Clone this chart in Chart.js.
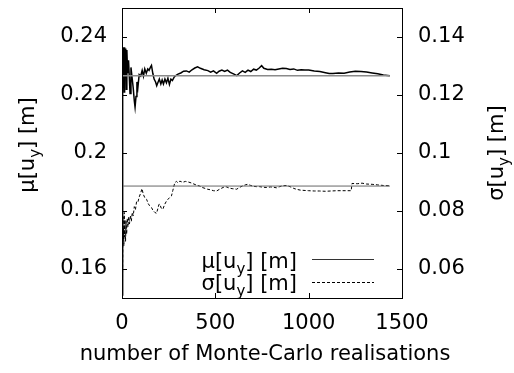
<!DOCTYPE html>
<html>
<head>
<meta charset="utf-8">
<script src="https://cdn.jsdelivr.net/npm/chart.js@4/dist/chart.umd.min.js"></script>
<style>
  html, body { margin: 0; padding: 0; background: #fff; }
  #wrap { width: 514px; height: 373px; }
</style>
</head>
<body>
<div id="wrap"><canvas id="mc-chart" width="514" height="373"></canvas></div>
<script>
// --- Data ---
var xTicks = [0, 500, 1000, 1500];
var muTicks = [0.16, 0.18, 0.2, 0.22, 0.24];
var sigmaTicks = [0.06, 0.08, 0.1, 0.12, 0.14];
var xTitle = 'number of Monte-Carlo realisations';

var muN = [1, 2, 3, 4, 5, 6, 8, 10, 12, 14, 17, 20, 23, 26, 30, 35, 40, 43, 48, 54,
  60, 66, 70, 75, 80, 85, 92, 100, 108, 115, 122, 130, 138, 145, 152, 158, 165, 172, 180, 186,
  192, 200, 208, 215, 222, 230, 238, 246, 254, 262, 270, 280, 290, 300, 315, 330, 345, 360, 375, 390,
  405, 420, 440, 460, 475, 490, 507, 520, 535, 550, 565, 580, 600, 615, 630, 645, 660, 675, 690, 705,
  720, 735, 748, 760, 780, 800, 820, 840, 860, 880, 900, 920, 940, 960, 980, 1000, 1030, 1060, 1090, 1110,
  1130, 1160, 1190, 1220, 1250, 1280, 1310, 1340, 1370, 1400, 1435];
var muValues = [0.151, 0.19, 0.215, 0.232, 0.222, 0.236, 0.226, 0.2365, 0.221, 0.2365, 0.228, 0.236, 0.222, 0.2355, 0.2275, 0.232, 0.225, 0.2205, 0.2295, 0.226,
  0.2225, 0.218, 0.2158, 0.2195, 0.2245, 0.2225, 0.227, 0.2265, 0.2285, 0.2265, 0.229, 0.2275, 0.229, 0.2285, 0.2295, 0.2302, 0.2275, 0.2255, 0.2245, 0.2232,
  0.2242, 0.2255, 0.2238, 0.2252, 0.2238, 0.2255, 0.2242, 0.2258, 0.2236, 0.2255, 0.225, 0.2262, 0.2268, 0.2272, 0.2276, 0.2282, 0.2283, 0.2279, 0.2287, 0.2293,
  0.2297, 0.2292, 0.2287, 0.2284, 0.2279, 0.2283, 0.2275, 0.2282, 0.2286, 0.2281, 0.2286, 0.2278, 0.2272, 0.2267, 0.2276, 0.2283, 0.2278, 0.2286, 0.2281, 0.2289,
  0.2286, 0.2293, 0.2301, 0.2292, 0.2288, 0.2289, 0.2287, 0.229, 0.2292, 0.2291, 0.2288, 0.229, 0.2285, 0.2287, 0.2286, 0.2286, 0.2283, 0.2281, 0.2277, 0.2274,
  0.2274, 0.2276, 0.2275, 0.2279, 0.2282, 0.2281, 0.2279, 0.2276, 0.2273, 0.2269, 0.2266];

var sigmaN = [2, 3, 4, 5, 6, 7, 8, 10, 12, 14, 16, 19, 22, 25, 28, 32, 36, 40, 45, 50,
  55, 60, 66, 72, 78, 85, 92, 100, 107, 114, 122, 132, 140, 148, 158, 166, 176, 185, 192, 198,
  203, 210, 219, 228, 238, 246, 256, 265, 272, 283, 292, 300, 310, 325, 340, 355, 370, 385, 400, 416,
  430, 445, 459, 475, 490, 507, 520, 535, 548, 560, 575, 590, 605, 614, 628, 645, 660, 673, 690, 705,
  720, 737, 755, 775, 795, 812, 827, 845, 860, 881, 900, 920, 934, 955, 975, 1000, 1030, 1057, 1090, 1120,
  1150, 1180, 1210, 1228, 1232, 1260, 1286, 1310, 1340, 1370, 1400, 1435];
var sigmaValues = [0.045, 0.058, 0.066, 0.072, 0.078, 0.07, 0.074, 0.068, 0.0795, 0.071, 0.077, 0.0695, 0.0765, 0.072, 0.0775, 0.0745, 0.078, 0.0755, 0.0785, 0.0765,
  0.0795, 0.0783, 0.0815, 0.0805, 0.0832, 0.083, 0.0848, 0.0862, 0.0877, 0.0858, 0.0846, 0.084, 0.0826, 0.0818, 0.0812, 0.0802, 0.0795, 0.0792, 0.0808, 0.0823,
  0.0823, 0.081, 0.0806, 0.0822, 0.0834, 0.084, 0.0847, 0.0852, 0.087, 0.0898, 0.0902, 0.0897, 0.0903, 0.0899, 0.0902, 0.09, 0.0897, 0.0893, 0.0889, 0.0886,
  0.0881, 0.0878, 0.0875, 0.0873, 0.087, 0.0869, 0.0874, 0.0879, 0.0883, 0.0883, 0.0879, 0.0877, 0.0876, 0.0875, 0.0881, 0.0886, 0.089, 0.0892, 0.0888, 0.0885,
  0.0884, 0.0884, 0.0882, 0.0881, 0.0883, 0.0882, 0.088, 0.0884, 0.0887, 0.0888, 0.0884, 0.0878, 0.0875, 0.0872, 0.0871, 0.087, 0.0869, 0.0869, 0.0868, 0.0869,
  0.087, 0.087, 0.087, 0.087, 0.0895, 0.0894, 0.0896, 0.0893, 0.0892, 0.089, 0.0888, 0.0887];

var muReference = 0.2266;
var sigmaReference = 0.0886;
var referenceRange = [0, 1435];

// --- Helpers ---
var FONT = '"DejaVu Sans", "Liberation Sans", Arial, sans-serif';
var FONT_SIZE = 21;

function toPoints(xs, ys) {
  return xs.map(function(x, i) { return { x: x, y: ys[i] }; });
}

function refPoints(value) {
  return referenceRange.map(function(x) { return { x: x, y: value }; });
}

function plainNumber(v) {
  return String(+v.toFixed(2));
}

// draws "<sym>[u_y] [m]" with a real subscript
function drawLabel(ctx, sym, x, y, align, size) {
  var parts = [
    { t: sym + '[u', s: size, dy: 0 },
    { t: 'y', s: Math.round(size * 0.72), dy: size * 0.3 },
    { t: '] [m]', s: size, dy: 0 }
  ];
  var widths = parts.map(function(p) {
    ctx.font = p.s + 'px ' + FONT;
    return ctx.measureText(p.t).width;
  });
  var total = widths.reduce(function(a, b) { return a + b; }, 0);
  var cx = align === 'right' ? x - total : (align === 'center' ? x - total / 2 : x);
  ctx.textAlign = 'left';
  ctx.textBaseline = 'alphabetic';
  parts.forEach(function(p, i) {
    ctx.font = p.s + 'px ' + FONT;
    ctx.fillText(p.t, cx, y + p.dy);
    cx += widths[i];
  });
}

// frame, inward ticks, axis titles and legend
var decorations = {
  id: 'decorations',
  afterDraw: function(chart) {
    var ctx = chart.ctx;
    var area = chart.chartArea;
    var xs = chart.scales.x, yl = chart.scales.yMu, yr = chart.scales.ySigma;
    var tick = 5;

    ctx.save();
    ctx.strokeStyle = '#000';
    ctx.lineWidth = 1;
    ctx.strokeRect(Math.round(area.left) + 0.5, Math.round(area.top) + 0.5,
      Math.round(area.right - area.left), Math.round(area.bottom - area.top));

    ctx.beginPath();
    xTicks.forEach(function(v) {
      var px = Math.round(xs.getPixelForValue(v)) + 0.5;
      ctx.moveTo(px, area.bottom); ctx.lineTo(px, area.bottom - tick);
      ctx.moveTo(px, area.top); ctx.lineTo(px, area.top + tick);
    });
    muTicks.forEach(function(v) {
      var py = Math.round(yl.getPixelForValue(v)) + 0.5;
      ctx.moveTo(area.left, py); ctx.lineTo(area.left + tick, py);
    });
    sigmaTicks.forEach(function(v) {
      var py = Math.round(yr.getPixelForValue(v)) + 0.5;
      ctx.moveTo(area.right, py); ctx.lineTo(area.right - tick, py);
    });
    ctx.stroke();

    ctx.fillStyle = '#000';

    // x axis title (drawn here so it is not squeezed to the plot width)
    ctx.font = FONT_SIZE + 'px ' + FONT;
    ctx.textAlign = 'center';
    ctx.textBaseline = 'alphabetic';
    ctx.fillText(xTitle, 265, 360);

    // left axis title
    ctx.save();
    ctx.translate(34, 145);
    ctx.rotate(-Math.PI / 2);
    drawLabel(ctx, 'μ', 0, 0, 'center', FONT_SIZE);
    ctx.restore();

    // right axis title
    ctx.save();
    ctx.translate(503, 153);
    ctx.rotate(-Math.PI / 2);
    drawLabel(ctx, 'σ', 0, 0, 'center', FONT_SIZE);
    ctx.restore();

    // legend
    drawLabel(ctx, 'μ', 297, 268, 'right', FONT_SIZE);
    drawLabel(ctx, 'σ', 297, 290, 'right', FONT_SIZE);

    ctx.beginPath();
    ctx.strokeStyle = '#333';
    ctx.lineWidth = 1.2;
    ctx.moveTo(312, 259.5); ctx.lineTo(374, 259.5);
    ctx.stroke();
    ctx.beginPath();
    ctx.strokeStyle = '#000';
    ctx.lineWidth = 1;
    ctx.setLineDash([3, 2]);
    ctx.moveTo(312, 282.5); ctx.lineTo(374, 282.5);
    ctx.stroke();
    ctx.restore();
  }
};

var chartArea = { left: 122, top: 8, right: 402, bottom: 298 };

function noPadding(scale) {
  scale.paddingTop = 0;
  scale.paddingBottom = 0;
  scale.paddingLeft = 0;
  scale.paddingRight = 0;
}

var ctx = document.getElementById('mc-chart');
var mcChart = new Chart(ctx, {
  type: 'line',
  data: {
    datasets: [
      {
        label: 'mu reference',
        data: refPoints(muReference),
        yAxisID: 'yMu',
        borderColor: '#8a8a8a',
        borderWidth: 1.5
      },
      {
        label: 'sigma reference',
        data: refPoints(sigmaReference),
        yAxisID: 'ySigma',
        borderColor: '#666',
        borderWidth: 1
      },
      {
        label: 'mu',
        data: toPoints(muN, muValues),
        yAxisID: 'yMu',
        borderColor: '#000',
        borderWidth: 1.5
      },
      {
        label: 'sigma',
        data: toPoints(sigmaN, sigmaValues),
        yAxisID: 'ySigma',
        borderColor: '#000',
        borderWidth: 1,
        borderDash: [3, 2]
      }
    ]
  },
  options: {
    responsive: false,
    animation: false,
    layout: { padding: { top: chartArea.top, left: 0, right: 0, bottom: 0 } },
    elements: {
      point: { radius: 0 },
      line: { tension: 0, fill: false }
    },
    plugins: {
      legend: { display: false },
      tooltip: { enabled: false }
    },
    scales: {
      x: {
        type: 'linear',
        min: 0,
        max: 1500,
        afterBuildTicks: function(scale) {
          scale.ticks = xTicks.map(function(v) { return { value: v }; });
        },
        afterFit: function(scale) {
          scale.height = 373 - chartArea.bottom;
          noPadding(scale);
        },
        grid: { display: false, drawTicks: false },
        border: { display: false },
        ticks: {
          color: '#000',
          padding: 13,
          maxRotation: 0,
          font: { family: FONT, size: FONT_SIZE },
          callback: function(v) { return String(v); }
        }
      },
      yMu: {
        type: 'linear',
        position: 'left',
        min: 0.15,
        max: 0.25,
        afterBuildTicks: function(scale) {
          scale.ticks = muTicks.map(function(v) { return { value: v }; });
        },
        afterFit: function(scale) {
          scale.width = chartArea.left;
          noPadding(scale);
        },
        grid: { display: false, drawTicks: false },
        border: { display: false },
        ticks: {
          color: '#000',
          padding: 15,
          font: { family: FONT, size: FONT_SIZE },
          callback: plainNumber
        }
      },
      ySigma: {
        type: 'linear',
        position: 'right',
        min: 0.05,
        max: 0.15,
        afterBuildTicks: function(scale) {
          scale.ticks = sigmaTicks.map(function(v) { return { value: v }; });
        },
        afterFit: function(scale) {
          scale.width = 514 - chartArea.right;
          noPadding(scale);
        },
        grid: { display: false, drawTicks: false },
        border: { display: false },
        ticks: {
          color: '#000',
          padding: 16,
          font: { family: FONT, size: FONT_SIZE },
          callback: plainNumber
        }
      }
    }
  },
  plugins: [decorations]
});
</script>
</body>
</html>
